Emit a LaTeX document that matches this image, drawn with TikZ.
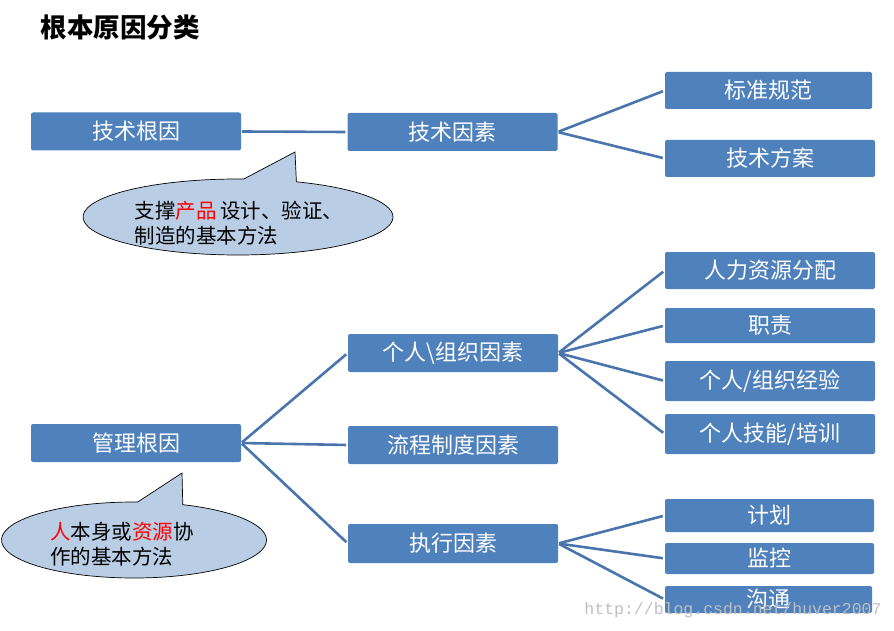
\documentclass[tikz,border=0pt]{standalone}
\usepackage{xcolor}
\usepackage{fontspec}
\setmainfont{Noto Sans CJK SC}
\setmonofont{Liberation Mono}
\usepackage{tikz}
\usetikzlibrary{positioning,shapes.callouts}
\definecolor{boxblue}{HTML}{4F81BD}
\definecolor{lineblue}{HTML}{4A74AC}
\definecolor{notefill}{HTML}{B9CDE5}

\begin{document}
\begin{tikzpicture}[x=1pt,y=-1pt,
    cause/.style={rectangle,rounded corners=2pt,fill=boxblue,text=white,inner sep=0pt,
      minimum width=210pt,minimum height=38pt,font=\fontsize{22}{26}\selectfont},
    link/.style={draw=lineblue,line width=2.6pt,shorten >=2pt,shorten <=1pt},
    note/.style={ellipse callout,draw=black,line width=0.7pt,fill=notefill,inner sep=0pt,
      callout pointer arc=20},
    notetext/.style={align=left,inner sep=0pt,font=\fontsize{20.5}{25}\selectfont}]
    \useasboundingbox (0,0) rectangle (894,631);
    \node[font=\fontsize{26.5}{30}\selectfont\bfseries] (title) at (120,27) {根本原因分类};
    % left column
    \node[cause] (TechRoot) at (136,131.5) {技术根因};
    \node[cause] (MgmtRoot) at (136,443) {管理根因};
    % middle column
    \node[cause] (TechF) at (452.5,132) {技术因素};
    \node[cause] (OrgF) at (453,353) {个人\textbackslash 组织因素};
    \node[cause] (ProcF) at (453,445) {流程制度因素};
    \node[cause,minimum height=39pt] (ExecF) at (453,543.5) {执行因素};
    % right column
    \node[cause,minimum width=207pt,minimum height=37pt] (Std) at (768.5,90.5) {标准规范};
    \node[cause,minimum height=37pt] (Plan) at (770,158.5) {技术方案};
    \node[cause,minimum height=37pt] (HR) at (770,270.5) {人力资源分配};
    \node[cause,minimum height=35pt] (Duty) at (770,325.5) {职责};
    \node[cause,minimum height=40pt] (Exp) at (770,381) {个人/组织经验};
    \node[cause,minimum height=40pt] (Skill) at (770,434) {个人技能/培训};
    \node[cause,minimum width=209pt,minimum height=33pt] (Sched) at (769.5,515.5) {计划};
    \node[cause,minimum width=209pt,minimum height=31pt] (Watch) at (769.5,558.5) {监控};
    \node[cause,minimum width=207pt,minimum height=27pt] (Talk) at (768.5,599.5) {沟通};
    % connectors
    \draw[link] (TechRoot.east) -- (TechF.west);
    \draw[link] (TechF.east) -- (Std.west);
    \draw[link] (TechF.east) -- (Plan.west);
    \foreach \n in {OrgF,ProcF,ExecF}
      \draw[link] (MgmtRoot.east) -- (\n.west);
    \foreach \n in {HR,Duty,Exp,Skill}
      \draw[link] (OrgF.east) -- (\n.west);
    \foreach \n in {Sched,Watch,Talk}
      \draw[link] (ExecF.east) -- (\n.west);
    % notes
    \node[note,minimum width=310pt,minimum height=76pt,callout absolute pointer={(295,152)}]
      (TechNote) at (238,217) {};
    \node[notetext] (TechText) at (239,223.5) {支撑{\color{red}产品}\,设计、验证、\\制造的基本方法};
    \node[note,minimum width=265pt,minimum height=76pt,callout absolute pointer={(182,473)}]
      (MgmtNote) at (134,540) {};
    \node[notetext] (MgmtText) at (122,544.5) {{\color{red}人}本身或{\color{red}资源}协\\作的基本方法};
    % watermark
    \node[text=black!25,font=\ttfamily\fontsize{16.5}{20}\selectfont] (mark) at (733,610)
      {http://blog.csdn.net/huver2007};
\end{tikzpicture}
\end{document}
